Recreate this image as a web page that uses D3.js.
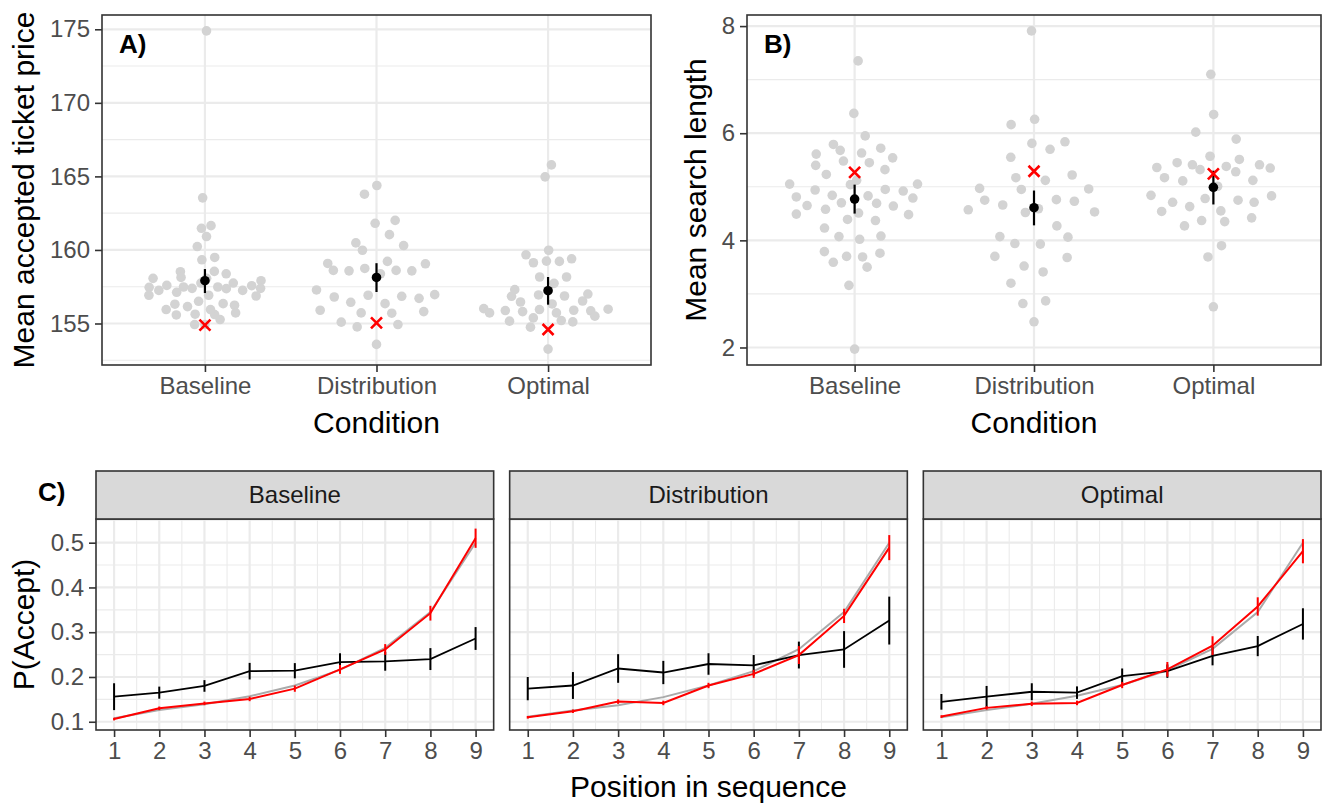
<!DOCTYPE html>
<html>
<head>
<meta charset="utf-8">
<script src="https://cdn.jsdelivr.net/npm/d3@7"></script>
<style>
  body { margin: 0; background: #fff; }
  svg { display: block; font-family: "Liberation Sans", Arial, sans-serif; }
</style>
</head>
<body>
<div id="chart"></div>
<script>
// ---- data ----
const conditions = ["Baseline", "Distribution", "Optimal"];

// A) per-participant mean accepted ticket price
const priceBaseline = [174.89, 163.54, 161.65, 161.47, 160.91, 160.23, 159.49, 159.33, 158.54, 158.38, 158.52, 158.07, 157.91, 158.13, 158.07,
  157.75, 157.39, 157.59, 157.25, 157.48, 157.39, 157.46, 157.25, 157.57, 157.12, 157.48, 157.37, 157.75, 156.87, 156.92, 156.92,
  156.24, 156.35, 156.31, 156.51, 156.15, 155.95, 155.72, 155.61, 155.58, 155.63, 155.27, 155.95, 154.93, 154.93];
const priceDistribution = [164.38, 163.79, 162.01, 161.81, 161.04, 160.30, 160.48, 159.98, 159.06, 158.58, 159.22, 159.08, 158.61, 158.38,
  158.61, 158.58, 158.74, 157.28, 156.80, 156.92, 156.85, 156.71, 156.96, 156.44, 156.35, 155.90, 155.72, 155.70, 155.81, 155.09,
  154.77, 154.93, 153.58];
const priceOptimal = [165.78, 164.97, 159.98, 159.67, 159.24, 159.13, 159.22, 159.40, 158.16, 158.16, 157.73, 157.30, 157.00, 156.85,
  156.94, 156.87, 156.46, 156.33, 156.53, 156.01, 155.72, 155.88, 155.81, 155.95, 155.72, 155.90, 155.86, 155.97, 155.50, 155.38,
  155.16, 155.20, 155.11, 154.75, 153.26];
const priceMean = [157.91, 158.13, 157.23];
const priceLow = [157.07, 157.14, 156.28];
const priceHigh = [158.70, 159.10, 158.16];
const priceOptimalPolicy = [154.89, 155.04, 154.59];
const priceTicks = [155, 160, 165, 170, 175];

// B) per-participant mean search length
const searchBaseline = [7.35, 6.37, 5.95, 5.72, 5.63, 5.79, 5.68, 5.54, 5.61, 5.45, 5.32, 5.40, 5.48, 5.23, 5.12, 5.05, 5.05, 5.04, 4.94,
  4.95, 4.92, 4.81, 4.84, 4.83, 4.79, 4.65, 4.70, 4.69, 4.64, 4.49, 4.58, 4.51, 4.48, 4.39, 4.37, 4.23, 4.07, 4.02, 4.08, 3.79, 3.70,
  3.69, 3.76, 3.59, 3.50, 3.16, 1.97];
const searchDistribution = [7.91, 6.26, 6.16, 5.81, 5.84, 5.70, 5.55, 5.17, 5.12, 5.22, 4.97, 4.95, 4.96, 4.75, 4.59, 4.66, 4.76, 4.73,
  4.53, 4.52, 4.57, 4.07, 4.27, 4.06, 3.94, 3.93, 3.70, 3.68, 3.52, 3.41, 3.20, 2.82, 2.87, 2.48];
const searchOptimal = [7.10, 6.35, 6.02, 5.89, 5.51, 5.35, 5.41, 5.38, 5.36, 5.57, 5.45, 5.41, 5.32, 5.28, 5.12, 5.17, 5.11, 5.01, 4.84,
  4.71, 4.78, 4.75, 4.71, 4.83, 4.54, 4.63, 4.55, 4.42, 4.37, 4.35, 4.27, 3.90, 3.69, 2.76];
const searchMean = [4.77, 4.61, 4.99];
const searchLow = [4.50, 4.28, 4.67];
const searchHigh = [5.04, 4.93, 5.30];
const searchOptimalPolicy = [5.27, 5.29, 5.24];
const searchTicks = [2, 4, 6, 8];

// C) P(Accept) by position in sequence
const positions = [1, 2, 3, 4, 5, 6, 7, 8, 9];
const probTicks = [0.1, 0.2, 0.3, 0.4, 0.5];

const humanBaseline = [0.156, 0.165, 0.180, 0.213, 0.214, 0.233, 0.235, 0.240, 0.286];
const humanBaselineErr = [0.030, 0.0135, 0.013, 0.0185, 0.017, 0.020, 0.021, 0.0245, 0.0255];
const humanDistribution = [0.174, 0.181, 0.219, 0.210, 0.229, 0.226, 0.249, 0.2615, 0.326];
const humanDistributionErr = [0.026, 0.030, 0.032, 0.026, 0.024, 0.023, 0.030, 0.041, 0.0535];
const humanOptimal = [0.1445, 0.156, 0.167, 0.165, 0.202, 0.213, 0.247, 0.269, 0.3185];
const humanOptimalErr = [0.0175, 0.024, 0.019, 0.014, 0.017, 0.015, 0.021, 0.0225, 0.035];

const policyBaseline = [0.106, 0.130, 0.141, 0.151, 0.174, 0.217, 0.2615, 0.3425, 0.510];
const policyBaselineErr = [0.003, 0.004, 0.004, 0.005, 0.007, 0.010, 0.012, 0.0165, 0.0215];
const policyDistribution = [0.110, 0.1235, 0.145, 0.142, 0.181, 0.207, 0.249, 0.3365, 0.489];
const policyDistributionErr = [0.003, 0.004, 0.005, 0.005, 0.006, 0.009, 0.020, 0.016, 0.028];
const policyOptimal = [0.1115, 0.131, 0.140, 0.142, 0.182, 0.217, 0.270, 0.3575, 0.481];
const policyOptimalErr = [0.003, 0.004, 0.005, 0.005, 0.007, 0.0165, 0.021, 0.0205, 0.027];

const modelBaseline = [0.108, 0.126, 0.139, 0.157, 0.181, 0.216, 0.265, 0.345, 0.500];
const modelDistribution = [0.111, 0.125, 0.137, 0.155, 0.181, 0.213, 0.262, 0.345, 0.500];
const modelOptimal = [0.110, 0.126, 0.140, 0.158, 0.182, 0.215, 0.263, 0.345, 0.500];

// ---- helpers ----
const GRID = "#ebebeb", BORDER = "#333333", TICKTXT = "#4d4d4d";

// van der Corput sequence (base 2), as used by vipor's quasirandom offsets
function vanDerCorput(n) {
  const out = [];
  for (let i = 1; i <= n; i++) {
    let f = 1, r = 0, k = i;
    while (k > 0) { f /= 2; r += f * (k % 2); k = Math.floor(k / 2); }
    out.push(r);
  }
  return out;
}

function bwNrd0(y) {
  const s = y.slice().sort(d3.ascending);
  const sd = d3.deviation(s);
  const iqr = d3.quantileSorted(s, 0.75) - d3.quantileSorted(s, 0.25);
  const lo = Math.min(sd, iqr / 1.34) || sd || 1;
  return 0.9 * lo * Math.pow(s.length, -0.2);
}

// quasirandom offsets in category units (width = max half-width)
function quasirandom(y, width) {
  const bw = bwNrd0(y);
  const dens = (v) => d3.sum(y, (yi) => Math.exp(-0.5 * ((v - yi) / bw) ** 2));
  const [lo, hi] = d3.extent(y);
  const grid = d3.range(512).map((i) => lo - 3 * bw + (i * (hi - lo + 6 * bw)) / 511);
  const maxD = d3.max(grid, dens);
  const order = d3.range(y.length).sort((a, b) => y[a] - y[b] || a - b);
  const rank = [];
  order.forEach((idx, r) => (rank[idx] = r));
  const vdc = vanDerCorput(y.length);
  return y.map((v, i) => (vdc[rank[i]] - 0.5) * 2 * (dens(v) / maxD) * width);
}

function expandedDomain(values) {
  const [lo, hi] = d3.extent(values);
  const pad = (hi - lo) * 0.05;
  return [lo - pad, hi + pad];
}

// minor breaks at the midpoints (ggplot style), kept inside the domain
function minorBreaks(major, domain) {
  const step = major[1] - major[0];
  const out = [];
  for (let i = -1; i < major.length; i++) {
    const v = major[0] + step * (i + 0.5);
    if (v >= domain[0] && v <= domain[1]) out.push(v);
  }
  return out;
}

const svg = d3.select("#chart").append("svg").attr("width", 1323).attr("height", 803);

function drawGrid(g, x0, x1, y0, y1, xMajor, xMinor, yMajor, yMinor) {
  g.selectAll(".ymin").data(yMinor).enter().append("line")
    .attr("x1", x0).attr("x2", x1).attr("y1", (d) => d).attr("y2", (d) => d)
    .attr("stroke", GRID).attr("stroke-width", 1.1);
  g.selectAll(".xmin").data(xMinor).enter().append("line")
    .attr("y1", y0).attr("y2", y1).attr("x1", (d) => d).attr("x2", (d) => d)
    .attr("stroke", GRID).attr("stroke-width", 1.1);
  g.selectAll(".ymaj").data(yMajor).enter().append("line")
    .attr("x1", x0).attr("x2", x1).attr("y1", (d) => d).attr("y2", (d) => d)
    .attr("stroke", GRID).attr("stroke-width", 2.2);
  g.selectAll(".xmaj").data(xMajor).enter().append("line")
    .attr("y1", y0).attr("y2", y1).attr("x1", (d) => d).attr("x2", (d) => d)
    .attr("stroke", GRID).attr("stroke-width", 2.2);
}

function styleAxis(ax, size) {
  ax.select(".domain").remove();
  ax.selectAll(".tick line").attr("stroke", BORDER).attr("stroke-width", 1.6);
  ax.selectAll(".tick text").attr("fill", TICKTXT).attr("font-size", size).attr("font-family", "Liberation Sans, Arial, sans-serif");
}

// ---- panels A and B ----
function drawSwarmPanel(cfg) {
  const g = svg.append("g");
  const x = d3.scalePoint().domain(conditions).range([cfg.left, cfg.right]).padding(0.6);
  const y = d3.scaleLinear().domain(expandedDomain(cfg.groups.flat())).range([cfg.bottom, cfg.top]);
  const step = x.step();

  drawGrid(g, cfg.left, cfg.right, cfg.top, cfg.bottom,
    conditions.map(x), [],
    cfg.ticks.map(y), minorBreaks(cfg.ticks, y.domain()).map(y));

  cfg.groups.forEach((vals, gi) => {
    const offs = quasirandom(vals, 0.4);
    g.append("g").selectAll("circle").data(vals).enter().append("circle")
      .attr("cx", (d, i) => x(conditions[gi]) + offs[i] * step)
      .attr("cy", (d) => y(d))
      .attr("r", 4.8)
      .attr("fill", "#d3d3d3");
  });

  // mean +/- SE
  g.selectAll(".err").data(conditions).enter().append("line")
    .attr("x1", (d) => x(d)).attr("x2", (d) => x(d))
    .attr("y1", (d, i) => y(cfg.low[i])).attr("y2", (d, i) => y(cfg.high[i]))
    .attr("stroke", "#000").attr("stroke-width", 2.2);
  g.selectAll(".mean").data(conditions).enter().append("circle")
    .attr("cx", (d) => x(d)).attr("cy", (d, i) => y(cfg.mean[i]))
    .attr("r", 4.8).attr("fill", "#000");

  // optimal policy
  const s = 5.5;
  g.selectAll(".opt").data(conditions).enter().append("path")
    .attr("transform", (d, i) => `translate(${x(d)},${y(cfg.opt[i])})`)
    .attr("d", `M${-s},${-s}L${s},${s}M${-s},${s}L${s},${-s}`)
    .attr("stroke", "#ff0000").attr("stroke-width", 2.6).attr("fill", "none");

  g.append("rect")
    .attr("x", cfg.left).attr("y", cfg.top)
    .attr("width", cfg.right - cfg.left).attr("height", cfg.bottom - cfg.top)
    .attr("fill", "none").attr("stroke", BORDER).attr("stroke-width", 1.6);

  const ax = g.append("g").attr("transform", `translate(0,${cfg.bottom})`)
    .call(d3.axisBottom(x).tickSize(7).tickPadding(5));
  styleAxis(ax, 24);
  const ay = g.append("g").attr("transform", `translate(${cfg.left},0)`)
    .call(d3.axisLeft(y).tickValues(cfg.ticks).tickFormat(d3.format("d")).tickSize(7).tickPadding(5));
  styleAxis(ay, 24);

  g.append("text")
    .attr("x", (cfg.left + cfg.right) / 2).attr("y", 433)
    .attr("text-anchor", "middle").attr("font-size", 30).text("Condition");
  g.append("text")
    .attr("transform", `translate(${cfg.titleX},${(cfg.top + cfg.bottom) / 2}) rotate(-90)`)
    .attr("text-anchor", "middle").attr("font-size", 30).text(cfg.yTitle);
  g.append("text")
    .attr("x", cfg.left + 17).attr("y", 53)
    .attr("font-size", 26).attr("font-weight", "bold").text(cfg.label);
}

drawSwarmPanel({
  left: 102, right: 651, top: 15, bottom: 365, titleX: 34,
  groups: [priceBaseline, priceDistribution, priceOptimal],
  mean: priceMean, low: priceLow, high: priceHigh, opt: priceOptimalPolicy,
  ticks: priceTicks, yTitle: "Mean accepted ticket price", label: "A)"
});

drawSwarmPanel({
  left: 747, right: 1321, top: 15, bottom: 365, titleX: 706,
  groups: [searchBaseline, searchDistribution, searchOptimal],
  mean: searchMean, low: searchLow, high: searchHigh, opt: searchOptimalPolicy,
  ticks: searchTicks, yTitle: "Mean search length", label: "B)"
});

// ---- panel C ----
const facets = [
  { name: "Baseline", human: humanBaseline, humanErr: humanBaselineErr, policy: policyBaseline, policyErr: policyBaselineErr, model: modelBaseline },
  { name: "Distribution", human: humanDistribution, humanErr: humanDistributionErr, policy: policyDistribution, policyErr: policyDistributionErr, model: modelDistribution },
  { name: "Optimal", human: humanOptimal, humanErr: humanOptimalErr, policy: policyOptimal, policyErr: policyOptimalErr, model: modelOptimal }
];

const cLeft = 96, cRight = 1321, cGap = 16, stripTop = 471, stripBottom = 519, cBottom = 730;
const facetW = (cRight - cLeft - 2 * cGap) / 3;

const allProb = [];
facets.forEach((f) => {
  f.human.forEach((v, i) => allProb.push(v - f.humanErr[i], v + f.humanErr[i]));
  f.policy.forEach((v, i) => allProb.push(v - f.policyErr[i], v + f.policyErr[i]));
  f.model.forEach((v) => allProb.push(v));
});
const yC = d3.scaleLinear().domain(expandedDomain(allProb)).range([cBottom, stripBottom]);
const xDomain = expandedDomain(positions);

facets.forEach((f, fi) => {
  const g = svg.append("g");
  const x0 = cLeft + fi * (facetW + cGap), x1 = x0 + facetW;
  const x = d3.scaleLinear().domain(xDomain).range([x0, x1]);

  drawGrid(g, x0, x1, stripBottom, cBottom,
    positions.map(x), minorBreaks(positions, xDomain).map(x),
    probTicks.map(yC), minorBreaks(probTicks, yC.domain()).map(yC));

  const line = (vals) => d3.line().x((d, i) => x(positions[i])).y((d) => yC(d))(vals);

  g.append("path").attr("d", line(f.model)).attr("fill", "none").attr("stroke", "#aaaaaa").attr("stroke-width", 2);

  g.append("path").attr("d", line(f.human)).attr("fill", "none").attr("stroke", "#000").attr("stroke-width", 1.8);
  g.selectAll(".herr").data(f.human).enter().append("line")
    .attr("x1", (d, i) => x(positions[i])).attr("x2", (d, i) => x(positions[i]))
    .attr("y1", (d, i) => yC(d - f.humanErr[i])).attr("y2", (d, i) => yC(d + f.humanErr[i]))
    .attr("stroke", "#000").attr("stroke-width", 2);

  g.append("path").attr("d", line(f.policy)).attr("fill", "none").attr("stroke", "#ff0000").attr("stroke-width", 2);
  g.selectAll(".perr").data(f.policy).enter().append("line")
    .attr("x1", (d, i) => x(positions[i])).attr("x2", (d, i) => x(positions[i]))
    .attr("y1", (d, i) => yC(d - f.policyErr[i])).attr("y2", (d, i) => yC(d + f.policyErr[i]))
    .attr("stroke", "#ff0000").attr("stroke-width", 2);

  g.append("rect").attr("x", x0).attr("y", stripBottom).attr("width", facetW).attr("height", cBottom - stripBottom)
    .attr("fill", "none").attr("stroke", BORDER).attr("stroke-width", 1.6);

  // strip
  g.append("rect").attr("x", x0).attr("y", stripTop).attr("width", facetW).attr("height", stripBottom - stripTop)
    .attr("fill", "#d9d9d9").attr("stroke", BORDER).attr("stroke-width", 1.6);
  g.append("text").attr("x", (x0 + x1) / 2).attr("y", (stripTop + stripBottom) / 2).attr("dy", "0.35em")
    .attr("text-anchor", "middle").attr("font-size", 24).attr("fill", "#1a1a1a").text(f.name);

  const ax = g.append("g").attr("transform", `translate(0,${cBottom})`)
    .call(d3.axisBottom(x).tickValues(positions).tickFormat(d3.format("d")).tickSize(7).tickPadding(5));
  styleAxis(ax, 24);

  if (fi === 0) {
    const ay = g.append("g").attr("transform", `translate(${x0},0)`)
      .call(d3.axisLeft(yC).tickValues(probTicks).tickFormat(d3.format(".1f")).tickSize(7).tickPadding(5));
    styleAxis(ay, 24);
  }
});

svg.append("text")
  .attr("transform", `translate(34,${(stripBottom + cBottom) / 2}) rotate(-90)`)
  .attr("text-anchor", "middle").attr("font-size", 30).text("P(Accept)");
svg.append("text")
  .attr("x", (cLeft + cRight) / 2).attr("y", 797)
  .attr("text-anchor", "middle").attr("font-size", 30).text("Position in sequence");
svg.append("text")
  .attr("x", 38).attr("y", 501)
  .attr("font-size", 26).attr("font-weight", "bold").text("C)");
</script>
</body>
</html>
